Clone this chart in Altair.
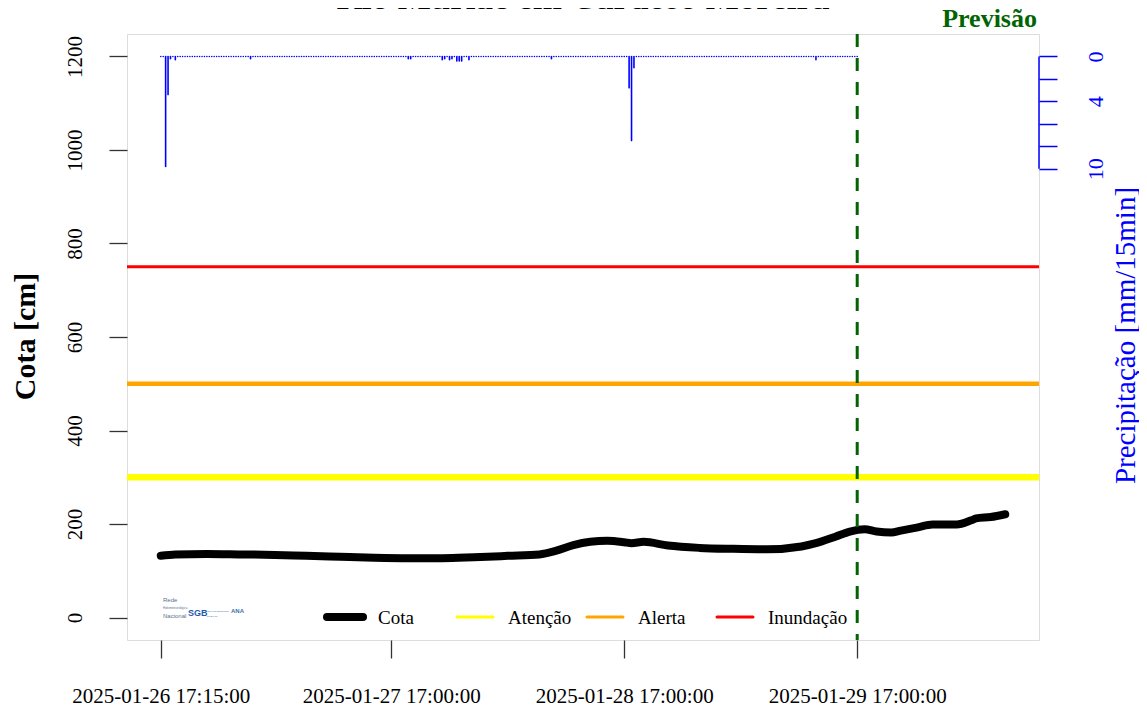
import altair as alt
import pandas as pd

# ---------------- data ----------------
titulo = "Rio Muriaé em Cardoso Moreira"
previsao_txt = "Previsão"

# hours since 2025-01-26 17:15:00
cota_horas = [0, 1.5, 4.75, 8.25, 11.75, 15, 18.5, 22, 25.5, 29, 32.25, 35.75, 39,
              40.75, 42.5, 44.25, 46, 47.75, 48.5, 49.75, 52.25, 55.5, 59, 62.5, 66,
              67.5, 69.5, 71, 72.5, 73.75, 75.25, 76.25, 78, 79.5, 82, 83.5, 84,
              85.5, 87]
cota_cm = [132, 135, 136, 135, 134, 132, 130, 128, 127, 127, 129, 132, 135,
           143, 155, 162, 164, 161, 159, 162, 154, 149, 147, 146, 152,
           159, 173, 184, 189, 184, 182, 186, 193, 199, 199, 208, 212,
           215, 221]

limiar_nomes = ["Atenção", "Alerta", "Inundação"]
limiar_cm = [300, 500, 750]

serie_nomes = ["Cota", "Atenção", "Alerta", "Inundação"]
serie_cores = ["#000000", "#FFFF00", "#FFA500", "#FF0000"]
serie_larguras = [8, 3, 3, 3]

# precipitation: 15-min readings until the forecast line; non-zero readings below
chuva_passos = 288
chuva_evento_h = [0.5, 0.75, 1.0, 1.5, 9.25, 25.5, 25.75, 29.0, 29.25, 29.75, 30.0,
                  30.5, 30.75, 31.0, 31.75, 40.25, 48.25, 48.5, 48.75, 67.5]
chuva_evento_mm = [9.8, 3.4, 0.2, 0.3, 0.2, 0.2, 0.2, 0.3, 0.2, 0.3, 0.2,
                   0.4, 0.4, 0.4, 0.3, 0.2, 2.8, 7.5, 1.0, 0.3]

tick_horas = [0, 23.75, 47.75, 71.75]
tick_rotulos = ["2025-01-26 17:15:00", "2025-01-27 17:00:00",
                "2025-01-28 17:00:00", "2025-01-29 17:00:00"]
previsao_h = 71.75

cota_ticks = [0, 200, 400, 600, 800, 1000, 1200]
chuva_ticks = [0, 2, 4, 6, 8, 10]
chuva_rotulos_vis = [0, 4, 10]

# small institutional logo texts (bottom-left corner)
logo_textos = ["Rede", "Hidrometeorológica", "Nacional", "SGB", "SERVIÇO GEOLÓGICO",
               "DO BRASIL", "ANA"]

# ---------------- build ----------------
FONT = "Liberation Serif"
W, H = 912, 606

df_cota = pd.DataFrame({"h": cota_horas, "valor": cota_cm, "serie": ["Cota"] * len(cota_cm)})
df_lim = pd.DataFrame({"valor": limiar_cm, "serie": limiar_nomes})
chuva_map = dict(zip(chuva_evento_h, chuva_evento_mm))
chuva_h = [i * 0.25 for i in range(chuva_passos)]
df_chuva = pd.DataFrame({"h": chuva_h, "mm": [chuva_map.get(h, 0.0) for h in chuva_h],
                         "zero": [0.0] * chuva_passos})

x_expr = " : ".join(f"datum.value == {h} ? '{l}'" for h, l in zip(tick_horas, tick_rotulos)) + " : ''"
chuva_expr = " || ".join(f"datum.value == {v}" for v in chuva_rotulos_vis) + " ? datum.label : ''"

x_enc = alt.X(
    "h:Q",
    scale=alt.Scale(domain=[-3.48, 90.48], nice=False, zero=False),
    axis=alt.Axis(values=tick_horas, labelExpr=x_expr, tickSize=18, tickWidth=1.3,
                  tickColor="#333333", labelPadding=27, labelFontSize=21, labelFont=FONT,
                  labelColor="black", labelAngle=0, labelAlign="center", labelBaseline="top",
                  labelOverlap=False, labelLimit=0, grid=False, domain=False, title=None),
)

y_enc = alt.Y(
    "valor:Q",
    scale=alt.Scale(domain=[-48, 1248], nice=False, zero=False),
    axis=alt.Axis(values=cota_ticks, format="d", tickSize=18, tickWidth=1.3, tickColor="#333333",
                  labelPadding=28, labelFontSize=21, labelFont=FONT, labelColor="black",
                  labelAngle=270, labelAlign="center", labelBaseline="alphabetic",
                  labelOverlap=False, labelLimit=0, grid=False, domain=False,
                  title="Cota [cm]", titleFont=FONT, titleFontSize=30, titleFontWeight="bold",
                  titleColor="black", titleAngle=270, titleX=-102, titleY=302,
                  titleAlign="center", titleBaseline="middle"),
)

color_enc = alt.Color("serie:N", scale=alt.Scale(domain=serie_nomes, range=serie_cores), legend=None)
sw_enc = alt.StrokeWidth("serie:N", scale=alt.Scale(domain=serie_nomes, range=serie_larguras), legend=None)

lim = alt.Chart(df_lim).mark_rule().encode(y=y_enc, color=color_enc, strokeWidth=sw_enc)

cota = alt.Chart(df_cota).mark_line(strokeCap="round", strokeJoin="round", interpolate="monotone").encode(
    x=x_enc, y=y_enc, color=color_enc, strokeWidth=sw_enc)

vline = alt.Chart(pd.DataFrame({"h": [previsao_h]})).mark_rule(
    color="#006400", strokeWidth=3, strokeDash=[13, 11]).encode(x=x_enc)

prev_txt = alt.Chart(pd.DataFrame({"t": [previsao_txt]})).mark_text(
    font=FONT, fontSize=26, fontWeight="bold", color="#006400", align="right",
    baseline="alphabetic").encode(x=alt.value(910), y=alt.value(-7), text="t:N")

tit_txt = alt.Chart(pd.DataFrame({"t": [titulo]})).mark_text(
    font=FONT, fontSize=35, fontWeight="bold", color="black", align="center",
    baseline="alphabetic").encode(x=alt.value(456), y=alt.value(-25.5), text="t:N")

# legend drawn inside the plot, R style (equal 130 px steps)
LEG_X0, LEG_STEP, LEG_Y, LEG_SYM, LEG_TXT = 200, 130, 583, 36, 51
legenda = []
for i, (nome, cor, lw) in enumerate(zip(serie_nomes, serie_cores, serie_larguras)):
    x0 = LEG_X0 + i * LEG_STEP
    legenda.append(
        alt.Chart(pd.DataFrame({"s": [nome]})).mark_rule(
            color=cor, strokeWidth=lw, strokeCap="round").encode(
            x=alt.value(x0), x2=alt.value(x0 + LEG_SYM), y=alt.value(LEG_Y)))
    legenda.append(
        alt.Chart(pd.DataFrame({"s": [nome]})).mark_text(
            font=FONT, fontSize=19, color="black", align="left", baseline="middle").encode(
            x=alt.value(x0 + LEG_TXT), y=alt.value(LEG_Y + 1), text="s:N"))

# logo imitation (tiny texts)
logo_pos = [(36, 568, 6, "normal", "#5a6f8f"),
            (36, 575, 2.8, "normal", "#5a6f8f"),
            (36, 584, 6, "normal", "#5a6f8f"),
            (61, 582, 9, "bold", "#1e5aa8"),
            (80, 578, 2.0, "normal", "#3c6fae"),
            (80, 583, 2.0, "normal", "#3c6fae"),
            (104, 579, 6, "bold", "#3c6fae")]
logo_parts = []
for t, (px, py, fs, fw, col) in zip(logo_textos, logo_pos):
    logo_parts.append(
        alt.Chart(pd.DataFrame({"t": [t]})).mark_text(
            font="Liberation Sans", fontSize=fs, fontWeight=fw, color=col, align="left",
            baseline="alphabetic").encode(x=alt.value(px), y=alt.value(py), text="t:N"))

y_chuva = alt.Y(
    "mm:Q",
    scale=alt.Scale(domain=[-2, 52], reverse=True, nice=False, zero=False),
    axis=alt.Axis(orient="right", values=chuva_ticks, labelExpr=chuva_expr, tickSize=18,
                  tickWidth=1.5, tickColor="#0000FF", labelPadding=45, labelFontSize=22,
                  labelFont=FONT, labelColor="#0000FF", labelAngle=270, labelAlign="center",
                  labelBaseline="alphabetic", labelOverlap=False, grid=False, domain=False,
                  title="Precipitação [mm/15min]", titleFont=FONT, titleFontSize=29,
                  titleFontWeight="normal", titleColor="#0000FF", titleAngle=270,
                  titleX=86, titleY=301, titleAlign="center", titleBaseline="middle"),
)

chuva = alt.Chart(df_chuva).mark_rule(color="#0000FF", strokeWidth=1.6, strokeCap="round").encode(
    x=x_enc, y=y_chuva, y2="zero:Q")

eixo_chuva = alt.Chart(pd.DataFrame({"mm": [chuva_ticks[0]], "mm2": [chuva_ticks[-1]]})).mark_rule(
    color="#0000FF", strokeWidth=1.5).encode(x=alt.value(W), y=y_chuva, y2="mm2:Q")

esquerda = alt.layer(lim, cota, vline, prev_txt, tit_txt, *legenda, *logo_parts)
direita = alt.layer(chuva, eixo_chuva)

chart = (
    alt.layer(esquerda, direita)
    .resolve_scale(y="independent")
    .properties(width=W, height=H,
                padding={"left": 119, "top": 26, "right": 100, "bottom": 70},
                autosize=alt.AutoSizeParams(type="none"))
    .configure_view(stroke="#333333", strokeWidth=1.5)
    .configure(background="white")
)

chart.save("out.html", embed_options={"renderer": "svg", "actions": False})
